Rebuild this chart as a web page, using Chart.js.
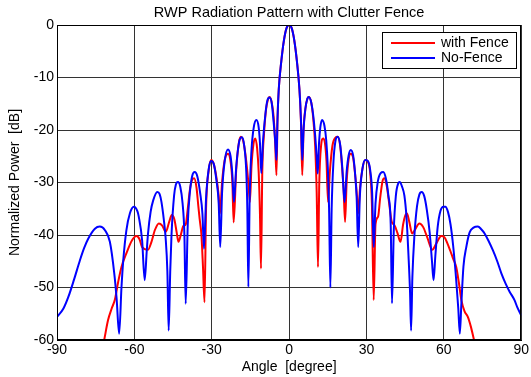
<!DOCTYPE html>
<html>
<head>
<meta charset="utf-8">
<script src="https://cdn.jsdelivr.net/npm/chart.js@4.4.0/dist/chart.umd.min.js"></script>
<style>
  html, body { margin: 0; padding: 0; background: #fff; }
</style>
</head>
<body>
<canvas id="chart" width="531" height="377"></canvas>
<script>
// --- DATA ---
const chartTitle = 'RWP Radiation Pattern with Clutter Fence';
const xTicks = [-90, -60, -30, 0, 30, 60, 90];
const yTicks = [-60, -50, -40, -30, -20, -10, 0];

const seriesNames = ['with Fence', 'No-Fence'];

// No-Fence (blue)
const blueAngle = [
  -90, -87.5, -85.6, -83.4, -81.1, -79.5, -77.9, -75.3, -73.4, -71.4, -69.5, -67.8, -66.9, -65.9,
  -65, -64.3, -63.1, -61.7, -60.2, -58.8, -58.3, -57, -56, -55.2, -54.7, -53.7, -52.7, -51.1,
  -50.2, -49.5, -48.6, -47.9, -47.2, -46.7, -46.1, -45.6, -44.6, -43.9, -43.1, -42.2, -41.3,
  -40.6, -40.1, -39.3, -38.5, -37.6, -36.6, -35.6, -34.5, -33.6, -33, -32.2, -31.2, -30.2,
  -29.2, -28.2, -27.3, -26.7, -26, -25, -23.7, -22.7, -22, -21.4, -20.5, -19.4, -18.3, -17.4,
  -16.6, -16.2, -15.8, -15.3, -14.6, -13.7, -12.7, -11.8, -11.3, -10.8, -10.1, -9.2, -8.5,
  -7.6, -6.7, -6, -5.4, -4.9, -4.5, -4, -3, -2, -1, 0,
  1, 2, 3, 4, 4.6, 5.1, 5.6, 6.3, 7.1, 7.7, 8.6, 9.3, 10.1, 10.6, 11.1, 11.6, 12.1, 12.8,
  13.7, 14.4, 15, 15.5, 16, 16.5, 17.2, 17.9, 18.8, 19.8, 20.6, 21.5, 22.3, 23.1, 23.9, 24.8,
  25.7, 26.2, 26.8, 27.4, 28.4, 29.5, 30.5, 31.4, 32.2, 32.8, 33.5, 34.4, 35.5, 36.5, 37.5,
  38.5, 39.4, 39.9, 40.6, 41.4, 42.3, 42.9, 43.8, 44.7, 45.5, 46.3, 46.9, 47.3, 47.8, 48.6,
  49.6, 50.5, 51.4, 52.4, 53.4, 54.5, 55.4, 56, 56.7, 57.6, 58.7, 59.8, 60.6, 61.6, 62.6,
  63.6, 64.7, 65.6, 66.2, 66.8, 67.6, 68.7, 70, 71.5, 73.2, 74.5, 75.8, 77.4, 79, 80.7, 82.3,
  84, 85.5, 87.4, 88.5, 90
];
const blueDb = [
  -55.6, -54, -51.8, -48.5, -44.8, -42.5, -40.7, -38.8, -38.4, -39.1, -41.3, -47.3, -52, -58.8,
  -50, -44.8, -39.1, -35.8, -34.6, -35.5, -36.5, -41, -48.6, -43, -39.7, -35.6, -33.4, -31.8,
  -32.2, -33.7, -37, -40.4, -47, -58.2, -47, -40, -32.5, -30.4, -29.9, -30.8, -34,
  -40, -53.1, -38, -32, -28.8, -28, -28.8, -32, -36, -42.6, -33, -27.5, -25.9,
  -26.5, -29.5, -34, -42.3, -32, -26, -23.7, -25, -28.5, -33.7, -27, -22.3, -21.4, -23,
  -28, -35, -49.9, -33, -24, -19.5, -18.1, -19.5, -22.5, -28.2, -22, -17, -14.5,
  -13.8, -15, -18.5, -22, -25.7, -18, -12.2, -6.8, -2.9, -0.6, 0,
  -0.6, -2.9, -6.8, -12.2, -18, -25.7, -20, -16, -14, -13.7, -14.8, -17, -21, -24.5, -28.3, -22.5, -19.5, -18.1,
  -19.2, -22, -27, -35, -50, -35, -26, -22.3, -21.3, -22.8, -27, -33.7, -28, -24.8, -23.8, -24.8,
  -29, -33, -42.3, -33, -27.5, -25.7, -25.9, -27.5, -32, -42.3, -34, -29.8, -28.2, -28, -29.2,
  -32.5, -38, -53, -39, -32.5, -30.2, -29.9, -30.8, -32.5, -36.5, -44, -51, -58.2, -48, -40,
  -34.5, -32.3, -31.8, -32.6, -35.2, -39.5, -45, -48.6, -44, -38.5, -35.4, -34.6, -34.6, -35.6, -38,
  -42, -48, -54, -58.8, -53, -46, -42.3, -39.5, -38.6, -38.4, -38.9, -39.7, -41.2, -42.9, -45, -47.3,
  -49.3, -50.8, -52.4, -53.8, -55.3
];

// with Fence (red)
const redAngle = [
  -71.7, -70.2, -68.8, -67.6, -66.3, -65, -63.1, -60.9, -59.2, -58, -57, -54.7, -53.5, -52,
  -50.5, -49.2, -47.8, -46.5, -45.5, -44.5, -43.6, -42.9, -42, -41, -40.1, -39.3, -38.5, -37.6,
  -36.8, -35.9, -35.2, -34.7, -34, -33.4, -32.8, -32.2, -31.2, -30.2, -29.2, -28.2, -27.3,
  -26.8, -26, -25, -23.7, -22.7, -22, -21.5, -20.5, -19.5, -18.7, -17.7, -16.6, -15.8, -15.2,
  -14.6, -13.8, -13.1, -12.4, -11.8, -11.3, -10.9, -10.4, -9.7, -9, -8.2, -7.6, -6.8, -6,
  -5.4, -4.9, -4.5, -4, -3, -2, -1, 0,
  1, 2, 3, 4, 4.6, 5.1, 5.6, 6.3, 7.1, 7.7, 8.6, 9.3, 10.1, 10.7, 11.2, 11.7, 12.4, 13.2, 13.9,
  14.5, 15.1, 15.8, 16.8, 17.9, 18.8, 19.8, 20.6, 21.1, 21.7, 22.3, 23.1, 23.9, 24.8, 25.7,
  26.3, 26.8, 27.5, 28.4, 29.5, 30.5, 31.4, 32.1, 32.8, 33.5, 34.5, 35.3, 36.2, 36.9, 37.8,
  38.8, 39.8, 40.8, 42, 43.2, 44.2, 45.1, 45.7, 46.6, 47.7, 48.8, 50.5, 52, 53.6, 55.5, 57.2,
  59, 60.2, 61.3, 62.5, 63.6, 64.8, 65.8, 66.8, 68, 69.3, 70.5, 71.7
];
const redDb = [
  -60, -56.2, -54, -52.4, -49, -46.1, -43.5, -41, -40.2, -40.8, -42.3, -42.8, -41.5, -39,
  -37.8, -38.2, -39.4, -37.5, -36.2, -37, -39.5, -41.3, -40, -38.3, -38, -35, -31.5, -29.5,
  -29.2, -31, -34.5, -36.9, -40, -46, -52.8, -35, -27.8, -25.7, -26.5, -29, -32.5,
  -35.9, -30, -25.8, -24.5, -26, -30, -37.6, -27.5, -22.5, -21.3, -22.3, -26, -30, -33.7,
  -27, -22.6, -21.6, -23.5, -28, -36, -46.4, -28, -20.5, -16.3, -14.2, -13.7, -14.6, -17.5,
  -22.5, -28.6, -18, -12.2, -6.8, -2.9, -0.6, 0,
  -0.6, -2.9, -6.8, -12.2, -18.5, -28.6, -20, -16, -14, -13.7, -14.8, -17.5, -23, -32, -46.1, -30, -23, -21.6, -22.5,
  -26, -33.7, -28, -23, -21.5, -21.3, -23, -27.5, -31, -37.5, -30, -25.5, -24.5, -25.2, -29,
  -32.5, -35.9, -31, -27.5, -25.7, -26, -28, -34, -52.4, -38, -36.5, -33, -29.8, -29.2, -30.5,
  -34, -37.5, -38.1, -39.6, -41.3, -38, -36.2, -35.9, -37.5, -39.7, -39, -37.8, -38.5, -40.5, -42.8, -41.5,
  -40.2, -40.4, -41.5, -43, -44.5, -46.1, -49, -52.4, -54.5, -55.6, -57.5, -60
];

// --- STYLE ---
const FONT = 'Liberation Sans, Arial, Helvetica, sans-serif';
const GRID = '#333';
Chart.defaults.font.family = FONT;
Chart.defaults.color = '#000';

const toPoints = (xs, ys) => xs.map((x, i) => ({ x: x, y: ys[i] }));

// title centred over the axes rather than the whole canvas
const axesTitle = {
  id: 'axesTitle',
  afterDraw(chart) {
    const { ctx, chartArea: a } = chart;
    ctx.save();
    ctx.font = '14.5px ' + FONT;
    ctx.fillStyle = '#000';
    ctx.textAlign = 'center';
    ctx.textBaseline = 'middle';
    ctx.fillText(chartTitle, (a.left + a.right) / 2, 13);
    ctx.restore();
  }
};

// box round the axes, like matlab's "box on"
const axesBox = {
  id: 'axesBox',
  afterDatasetsDraw(chart) {
    const { ctx, chartArea: a } = chart;
    ctx.save();
    ctx.strokeStyle = '#000';
    ctx.lineWidth = 1;
    ctx.strokeRect(Math.round(a.left) + 0.5, Math.round(a.top) + 0.5,
      Math.round(a.right - a.left) - 1, Math.round(a.bottom - a.top) - 1);
    ctx.restore();
  }
};

// legend drawn inside the plot, top right
const boxLegend = {
  id: 'boxLegend',
  afterDraw(chart) {
    const { ctx, chartArea: a } = chart;
    const w = 134, h = 36;
    const x = Math.round(a.right - 5 - w);
    const y = Math.round(a.top + 7);
    ctx.save();
    ctx.fillStyle = '#fff';
    ctx.fillRect(x, y, w, h);
    ctx.strokeStyle = '#000';
    ctx.lineWidth = 1;
    ctx.strokeRect(x + 0.5, y + 0.5, w, h);
    ctx.font = '14px ' + FONT;
    ctx.textBaseline = 'middle';
    ctx.fillStyle = '#000';
    const rows = chart.data.datasets.slice().sort((p, q) => p.legendRow - q.legendRow);
    rows.forEach((ds, i) => {
      const ly = y + 11 + i * 15;
      ctx.strokeStyle = ds.borderColor;
      ctx.lineWidth = 2;
      ctx.beginPath();
      ctx.moveTo(x + 9, ly);
      ctx.lineTo(x + 53, ly);
      ctx.stroke();
      ctx.fillText(ds.label, x + 59, ly + 0.5);
    });
    ctx.restore();
  }
};

new Chart(document.getElementById('chart'), {
  type: 'line',
  data: {
    datasets: [
      {
        label: seriesNames[0],
        data: toPoints(redAngle, redDb),
        borderColor: '#ff0000',
        borderWidth: 2,
        pointRadius: 0,
        cubicInterpolationMode: 'monotone',
        order: 1,
        legendRow: 0
      },
      {
        label: seriesNames[1],
        data: toPoints(blueAngle, blueDb),
        borderColor: '#0000ff',
        borderWidth: 2,
        pointRadius: 0,
        cubicInterpolationMode: 'monotone',
        order: 0,
        legendRow: 1
      }
    ]
  },
  options: {
    responsive: false,
    animation: false,
    events: [],
    layout: { padding: { left: 0, right: 9, top: 25, bottom: 0 } },
    plugins: {
      legend: { display: false },
      tooltip: { enabled: false },
      title: { display: false }
    },
    scales: {
      x: {
        type: 'linear',
        min: xTicks[0],
        max: xTicks[xTicks.length - 1],
        afterBuildTicks: (s) => { s.ticks = xTicks.map(v => ({ value: v })); },
        afterFit: (s) => { s.height = 37; },
        ticks: { font: { size: 14 }, color: '#000', padding: 2, maxRotation: 0 },
        grid: { color: GRID, lineWidth: 1, drawTicks: false },
        border: { color: '#000' },
        title: {
          display: true,
          text: 'Angle  [degree]',
          color: '#000',
          font: { size: 14 },
          padding: { top: 0, bottom: 1 }
        }
      },
      y: {
        type: 'linear',
        min: yTicks[0],
        max: yTicks[yTicks.length - 1],
        afterBuildTicks: (s) => { s.ticks = yTicks.map(v => ({ value: v })); },
        afterFit: (s) => { s.width = 57; },
        ticks: { font: { size: 14 }, color: '#000', padding: 3 },
        grid: { color: GRID, lineWidth: 1, drawTicks: false },
        border: { color: '#000' },
        title: {
          display: true,
          text: 'Normalized Power  [dB]',
          color: '#000',
          font: { size: 14 },
          padding: { top: 7, bottom: 0 }
        }
      }
    }
  },
  plugins: [axesBox, axesTitle, boxLegend]
});
</script>
</body>
</html>
